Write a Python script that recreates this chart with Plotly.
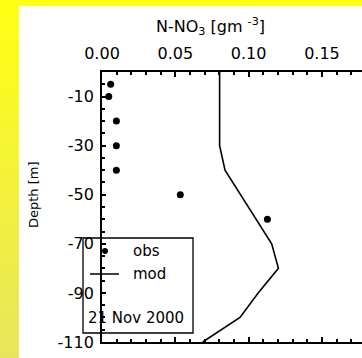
import plotly.graph_objects as go

# ---- data ----
obs_no3 = [0.0059, 0.0046, 0.0098, 0.0098, 0.0098, 0.0534, 0.1128]
obs_depth = [-5, -10, -20, -30, -40, -50, -60]
mod_no3 = [0.0802, 0.0802, 0.0839, 0.1157, 0.1203, 0.1065, 0.0941, 0.0687]
mod_depth = [0, -30, -40, -70, -80, -90, -100, -110]
x_tickvals = [0.0, 0.05, 0.10, 0.15]
x_ticktext = ["0.00", "0.05", "0.10", "0.15"]
y_tickvals = [-10, -30, -50, -70, -90, -110]
y_ticktext = ["-10", "-30", "-50", "-70", "-90", "-110"]

W, H = 362, 358
L, R, T, B = 102, 362, 72, 342
FONT = "DejaVu Sans, Verdana, sans-serif"


def px(x):
    return (x - L) / (R - L)


def py(y):
    return (B - y) / (B - T)


fig = go.Figure()
fig.add_trace(go.Scatter(x=mod_no3, y=mod_depth, mode="lines",
                         line=dict(color="black", width=1.6), showlegend=False))
fig.add_trace(go.Scatter(x=obs_no3, y=obs_depth, mode="markers",
                         marker=dict(color="black", size=7), showlegend=False))

shapes = []
# yellow gradient background (left strip)
top_rgb = (255, 255, 20)
bot_rgb = (232, 229, 92)
n = 36
for i in range(n):
    t = i / (n - 1)
    c = tuple(round(top_rgb[k] + (bot_rgb[k] - top_rgb[k]) * t) for k in range(3))
    y0 = i * H / n
    y1 = (i + 1) * H / n + 0.5
    shapes.append(dict(type="rect", xref="paper", yref="paper", layer="below",
                       x0=px(-1), x1=px(19), y0=py(y1), y1=py(y0),
                       fillcolor="rgb(%d,%d,%d)" % c, line=dict(width=0)))
# top strip
shapes.append(dict(type="rect", xref="paper", yref="paper", layer="below",
                   x0=px(18), x1=px(W + 2), y0=py(6), y1=py(-2),
                   fillcolor="rgb(255,255,20)", line=dict(width=0)))

# legend box
shapes.append(dict(type="rect", xref="paper", yref="paper",
                   x0=px(83), x1=px(193), y0=py(333), y1=py(238),
                   line=dict(color="black", width=1.3), fillcolor="rgba(0,0,0,0)"))
# legend symbols
shapes.append(dict(type="circle", xref="paper", yref="paper",
                   x0=px(102), x1=px(108), y0=py(254), y1=py(248),
                   fillcolor="black", line=dict(color="black", width=0)))
shapes.append(dict(type="line", xref="paper", yref="paper",
                   x0=px(90), x1=px(119), y0=py(274), y1=py(274),
                   line=dict(color="black", width=1.5)))

annotations = [
    dict(text="N-NO<sub>3</sub> [gm <sup>-3</sup>]", xref="paper", yref="paper",
         x=px(210), y=py(26), showarrow=False, font=dict(family=FONT, size=16, color="black"),
         xanchor="center", yanchor="middle"),
    dict(text="Depth [m]", xref="paper", yref="paper", x=px(33), y=py(195),
         showarrow=False, textangle=-90, font=dict(family=FONT, size=13, color="black"),
         xanchor="center", yanchor="middle"),
    dict(text="obs", xref="paper", yref="paper", x=px(131), y=py(251), showarrow=False,
         xanchor="left", yanchor="middle", font=dict(family=FONT, size=15, color="black")),
    dict(text="mod", xref="paper", yref="paper", x=px(131), y=py(274), showarrow=False,
         xanchor="left", yanchor="middle", font=dict(family=FONT, size=15, color="black")),
    dict(text="21 Nov 2000", xref="paper", yref="paper", x=px(86), y=py(318), showarrow=False,
         xanchor="left", yanchor="middle", font=dict(family=FONT, size=15, color="black")),
]

fig.update_layout(
    width=W, height=H,
    margin=dict(l=L, r=W - R, t=T, b=H - B, pad=0),
    paper_bgcolor="white", plot_bgcolor="white",
    shapes=shapes, annotations=annotations,
    font=dict(family=FONT, size=16, color="black"),
    xaxis=dict(side="top", range=[0, 0.1773], tickmode="array",
               tickvals=x_tickvals, ticktext=x_ticktext,
               ticks="inside", ticklen=5, tickwidth=1.5, tickcolor="black",
               minor=dict(tickmode="linear", tick0=0, dtick=0.01, ticks="inside",
                          ticklen=3, tickwidth=1.5, tickcolor="black"),
               showline=True, linecolor="black", linewidth=1.8, mirror="ticks",
               showgrid=False, zeroline=False, ticklabelstandoff=5,
               tickfont=dict(family=FONT, size=16, color="black")),
    yaxis=dict(range=[-110, 0], tickmode="array",
               tickvals=y_tickvals, ticktext=y_ticktext,
               ticks="inside", ticklen=4, tickwidth=1.5, tickcolor="black",
               minor=dict(tickmode="linear", tick0=0, dtick=5, ticks="inside",
                          ticklen=3, tickwidth=1.5, tickcolor="black"),
               showline=True, linecolor="black", linewidth=1.8, mirror=False,
               showgrid=False, zeroline=False, ticklabelstandoff=3,
               tickfont=dict(family=FONT, size=16, color="black")),
    showlegend=False,
)

fig.write_html("out.html")
